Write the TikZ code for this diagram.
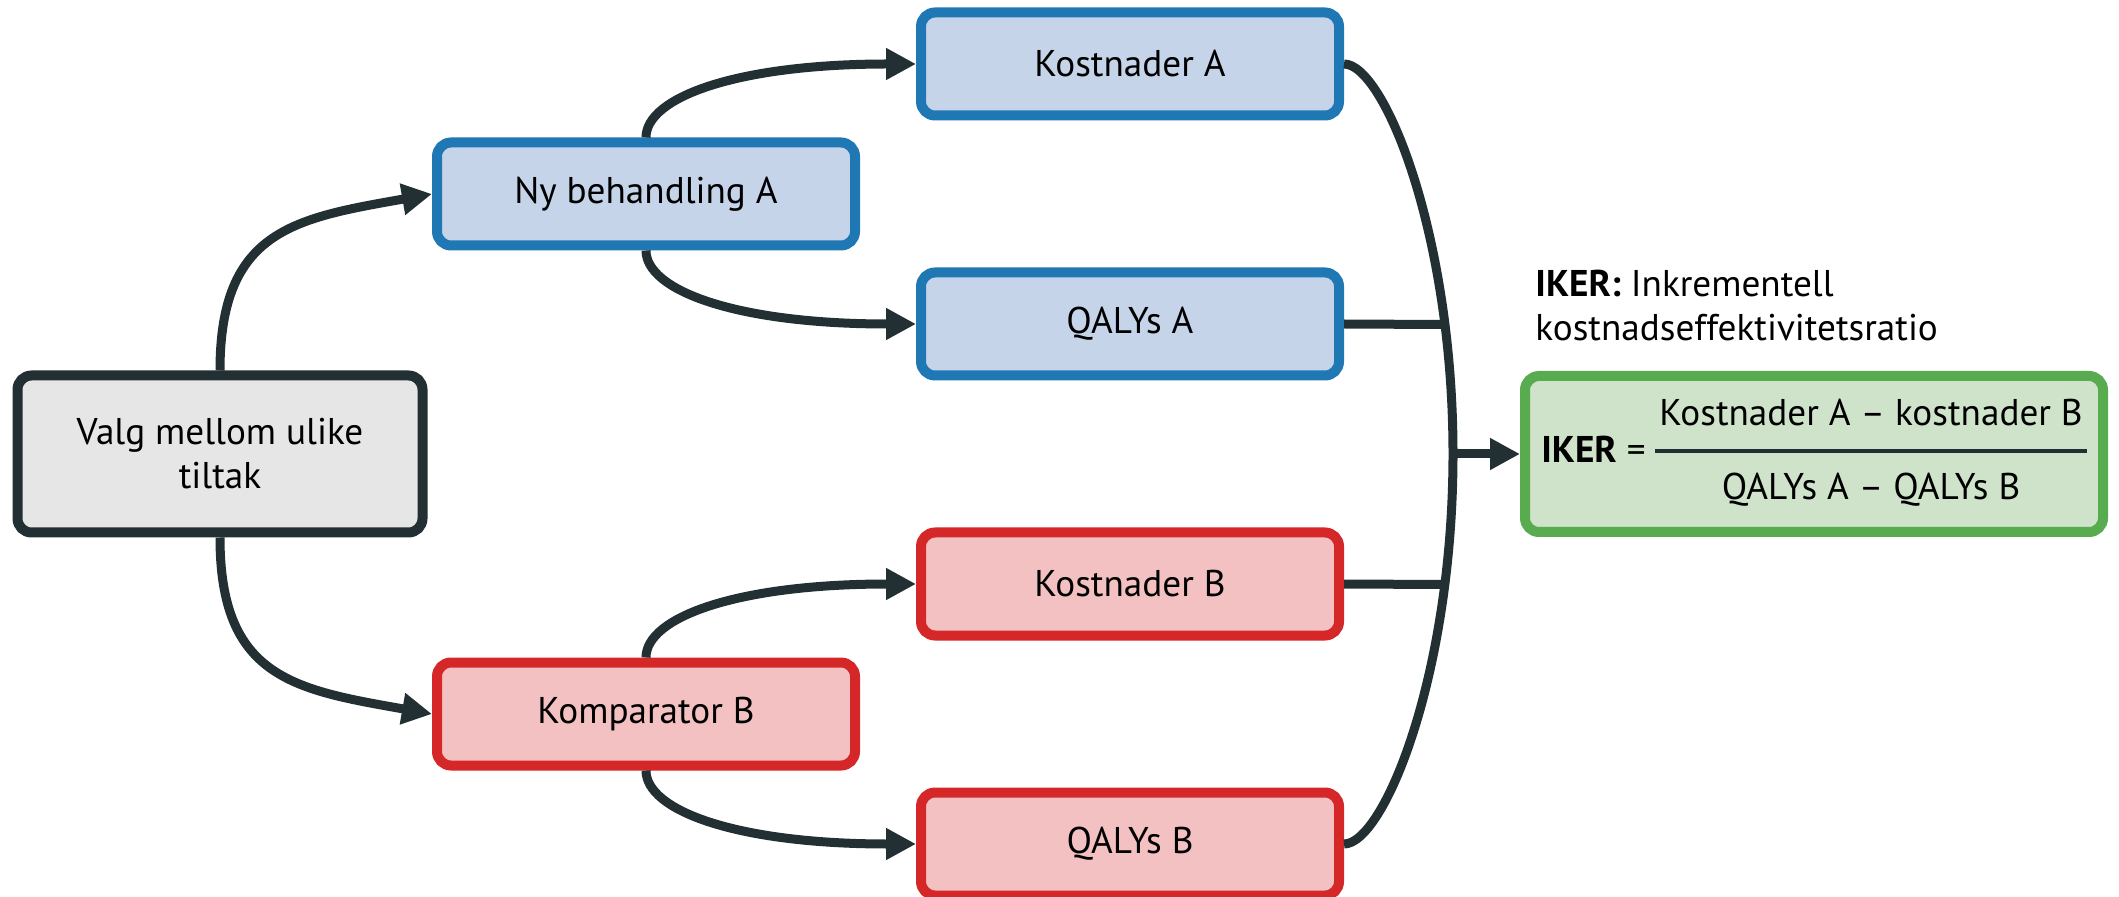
\documentclass[tikz,border=0pt]{standalone}
\usepackage{fontspec}
\setmainfont{PT Sans}
\usepackage[table]{xcolor}
\usepackage{tikz}
\usetikzlibrary{shapes.geometric, arrows.meta, positioning}
\definecolor{darkline}{RGB}{35,48,51}
\definecolor{blueborder}{RGB}{31,119,180}
\definecolor{bluefill}{RGB}{197,212,233}
\definecolor{redborder}{RGB}{214,39,40}
\definecolor{redfill}{RGB}{243,193,193}
\definecolor{greenborder}{RGB}{89,171,80}
\definecolor{greenfill}{RGB}{207,227,202}
\definecolor{greyfill}{RGB}{230,230,230}
\setlength{\arrayrulewidth}{2pt}
\arrayrulecolor{darkline}
\tikzstyle{box} = [rectangle, rounded corners=7pt, minimum width=209pt, minimum height=51.5pt, text centered, line width=5pt]
\tikzstyle{boxA} = [box, draw=blueborder, fill=bluefill]
\tikzstyle{boxB} = [box, draw=redborder, fill=redfill]
\tikzstyle{start} = [box, align=center, minimum width=202.5pt, minimum height=78.5pt, draw=darkline, fill=greyfill]
\tikzstyle{result} = [box, minimum width=289pt, minimum height=78pt, draw=greenborder, fill=greenfill]
\tikzstyle{arrow} = [line width=4.5pt, draw=darkline, -{Triangle[length=15pt, width=15pt]}]
\tikzstyle{link} = [line width=4.5pt, draw=darkline]

\begin{document}
\begin{tikzpicture}[font=\fontsize{18.6}{22}\selectfont, node distance=242pt]
\useasboundingbox (0pt,0pt) rectangle (1059.5pt,-448.5pt);

\node (valg) [start] at (110pt,-227pt) {Valg mellom ulike\\tiltak};
\node (ny) [boxA, right of=valg, xshift=-29pt, yshift=130pt] {Ny behandling A};
\node (ka) [boxA, right of=ny, yshift=65pt] {Kostnader A};
\node (qa) [boxA, right of=ny, yshift=-65pt] {QALYs A};
\node (komp) [boxB, right of=valg, xshift=-29pt, yshift=-130pt] {Komparator B};
\node (kb) [boxB, right of=komp, yshift=65pt] {Kostnader B};
\node (qb) [boxB, right of=komp, yshift=-65pt] {QALYs B};
\node (iker) [result, right of=valg, xshift=555pt] {\textbf{IKER} = \begin{tabular}{@{\hspace{2pt}}c@{\hspace{2pt}}}Kostnader A – kostnader B\rule[-11.5pt]{0pt}{11.5pt}\\\hline\rule{0pt}{23.5pt}QALYs A – QALYs B\end{tabular}};
\node (ikerlabel) [anchor=south west, inner sep=0pt, align=left] at ([xshift=7.5pt, yshift=15pt]iker.north west) {\textbf{IKER:} Inkrementell\\kostnadseffektivitetsratio};

\coordinate (join) at (726.5pt,-227pt);
\coordinate (hitA) at (721.5pt,-162.25pt);
\coordinate (hitB) at (721.5pt,-292.25pt);

\draw[arrow] (valg.north) to[out=90, in=190, looseness=1.3] (ny.west);
\draw[arrow] (valg.south) to[out=-90, in=170, looseness=1.3] (komp.west);
\draw[arrow] (ny.north) .. controls ([yshift=20pt]ny.north) and ([xshift=-90pt]ka.west) .. (ka.west);
\draw[arrow] (ny.south) .. controls ([yshift=-20pt]ny.south) and ([xshift=-90pt]qa.west) .. (qa.west);
\draw[arrow] (komp.north) .. controls ([yshift=20pt]komp.north) and ([xshift=-90pt]kb.west) .. (kb.west);
\draw[arrow] (komp.south) .. controls ([yshift=-20pt]komp.south) and ([xshift=-90pt]qb.west) .. (qb.west);
\draw[link] (ka.east) .. controls ([xshift=20pt]ka.east) and ([yshift=110pt]join) .. (join) .. controls ([yshift=-110pt]join) and ([xshift=20pt]qb.east) .. (qb.east);
\draw[link] (qa.east) -- (hitA);
\draw[link] (kb.east) -- (hitB);
\draw[arrow] (join) -- (iker.west);
\end{tikzpicture}
\end{document}
